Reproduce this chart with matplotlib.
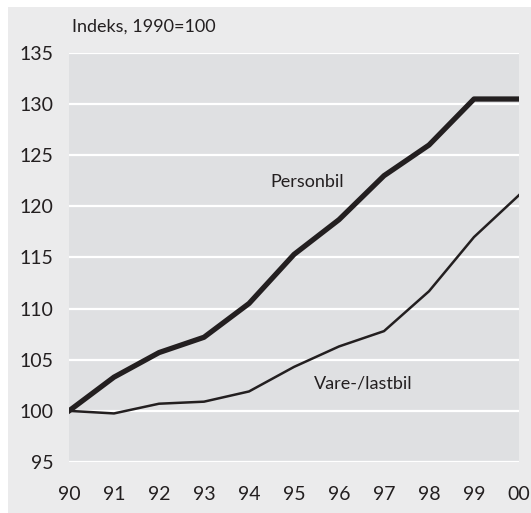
import matplotlib.pyplot as plt
from matplotlib.patches import Rectangle

years = ["90", "91", "92", "93", "94", "95", "96", "97", "98", "99", "00"]
personbil = [100, 103.3, 105.7, 107.2, 110.5, 115.3, 118.7, 123.0, 126.0, 130.5, 130.5]
varebil = [100, 99.75, 100.7, 100.9, 101.9, 104.3, 106.3, 107.8, 111.7, 117.0, 121.1]
yticks = [95, 100, 105, 110, 115, 120, 125, 130, 135]

plt.rcParams['font.family'] = ['Lato', 'DejaVu Sans']

fig = plt.figure(figsize=(5.31, 5.13), dpi=100, facecolor='white')
# grey panel behind everything
fig.patches.append(Rectangle((8 / 531, 0), 1, 506 / 513,
                             transform=fig.transFigure, facecolor='#ebebec',
                             edgecolor='none', zorder=0))

ax = fig.add_axes([69 / 531, (513 - 462) / 513, (519 - 69) / 531, (462 - 53) / 513])
ax.set_zorder(2)
ax.set_facecolor('#dfe0e2')
x = list(range(len(years)))
ax.plot(x, personbil, color='#231f20', lw=3.8, zorder=3)
ax.plot(x, varebil, color='#231f20', lw=1.8, zorder=3)

ax.set_xlim(0, len(years) - 1)
ax.set_ylim(95, 135)
ax.set_yticks(yticks)
ax.set_xticks(x)
ax.set_xticklabels(years)
ax.grid(axis='y', color='white', lw=1.6)
ax.set_axisbelow(True)
for s in ax.spines.values():
    s.set_visible(False)
ax.tick_params(length=0, labelsize=14, colors='#231f20')
ax.tick_params(axis='x', pad=17)
ax.tick_params(axis='y', pad=11)

ax.text(5.3, 122.4, "Personbil", fontsize=13, color='#231f20', va='center', ha='center')
ax.text(6.55, 102.7, "Vare-/lastbil", fontsize=13, color='#231f20', va='center', ha='center')
fig.text(72 / 531, 1 - 27 / 513, "Indeks, 1990=100", fontsize=13, color='#231f20', va='center')

fig.savefig('out.png', dpi=100, facecolor='white')
